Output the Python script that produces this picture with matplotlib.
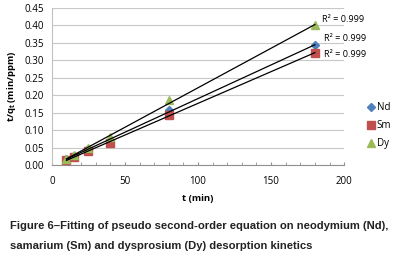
import numpy as np
import matplotlib
matplotlib.use("Agg")
import matplotlib.pyplot as plt

# data
t = np.array([10, 15, 25, 40, 80, 180])
nd = np.array([0.017, 0.027, 0.045, 0.070, 0.158, 0.343])
sm = np.array([0.015, 0.024, 0.040, 0.062, 0.143, 0.322])
dy = np.array([0.017, 0.030, 0.050, 0.080, 0.185, 0.400])
r2 = ["R² = 0.999", "R² = 0.999", "R² = 0.999"]

names = ['Nd', 'Sm', 'Dy']
series = [nd, sm, dy]
colors = ['#4F81BD', '#C0504D', '#9BBB59']
markers = ['D', 's', '^']
msizes = [4.5, 6, 6]
r2_pos = [(186, 0.364), (186, 0.316), (185, 0.416)]

fig = plt.figure(figsize=(3.96, 2.67), dpi=100)
ax = fig.add_axes([0.131, 0.382, 0.738, 0.588])
fnt = 'Open Sans'

for y, n, c, m, ms in zip(series, names, colors, markers, msizes):
    ax.plot(t, y, linestyle='none', marker=m, color=c, markersize=ms, label=n, zorder=3)
for y in series:
    k, b = np.polyfit(t, y, 1)
    xx = np.array([t[0], t[-1]])
    ax.plot(xx, k * xx + b, color='black', lw=0.9, zorder=4)
for (x, y), s in zip(r2_pos, r2):
    ax.text(x, y, s, fontsize=6.6, family=fnt, va='center', ha='left')

ax.set_xlim(0, 200)
ax.set_ylim(0, 0.45)
ax.set_yticks(np.arange(0, 0.451, 0.05))
ax.set_yticklabels(['%.2f' % v for v in np.arange(0, 0.451, 0.05)])
ax.set_xticks([0, 50, 100, 150, 200])
ax.set_xticks(np.arange(0, 201, 10), minor=True)
ax.grid(axis='y', color='#c8c8c8', lw=0.8)
ax.set_axisbelow(True)
for s in ['top', 'right']:
    ax.spines[s].set_visible(False)
ax.spines['left'].set_color('#c0c0c0')
ax.spines['bottom'].set_color('#909090')
ax.tick_params(axis='y', length=0, labelsize=7, pad=6)
ax.tick_params(axis='x', which='both', direction='in', length=2.5, color='#909090', labelsize=7, pad=8)
for lab in ax.get_xticklabels() + ax.get_yticklabels():
    lab.set_family(fnt)

ax.set_xlabel('t (min)', fontsize=6.8, family=fnt, fontweight='bold', labelpad=5)
ax.set_ylabel('t/q$_\\mathregular{t}$ (min/ppm)', fontsize=6.8, family=fnt, fontweight='bold', labelpad=4)

ax.legend(loc='center left', bbox_to_anchor=(0.92, 0.53), bbox_transform=fig.transFigure,
          frameon=False, prop={'family': fnt, 'size': 7}, handlelength=0.6,
          handletextpad=0.3, labelspacing=0.72, borderaxespad=0)

fig.text(0.025, 0.142, 'Figure 6–Fitting of pseudo second-order equation on neodymium (Nd),',
         fontsize=8.1, family='Liberation Sans', fontweight='bold', color='#222222')
fig.text(0.025, 0.068, 'samarium (Sm) and dysprosium (Dy) desorption kinetics',
         fontsize=8.1, family='Liberation Sans', fontweight='bold', color='#222222')

fig.savefig('out.png', dpi=100)
